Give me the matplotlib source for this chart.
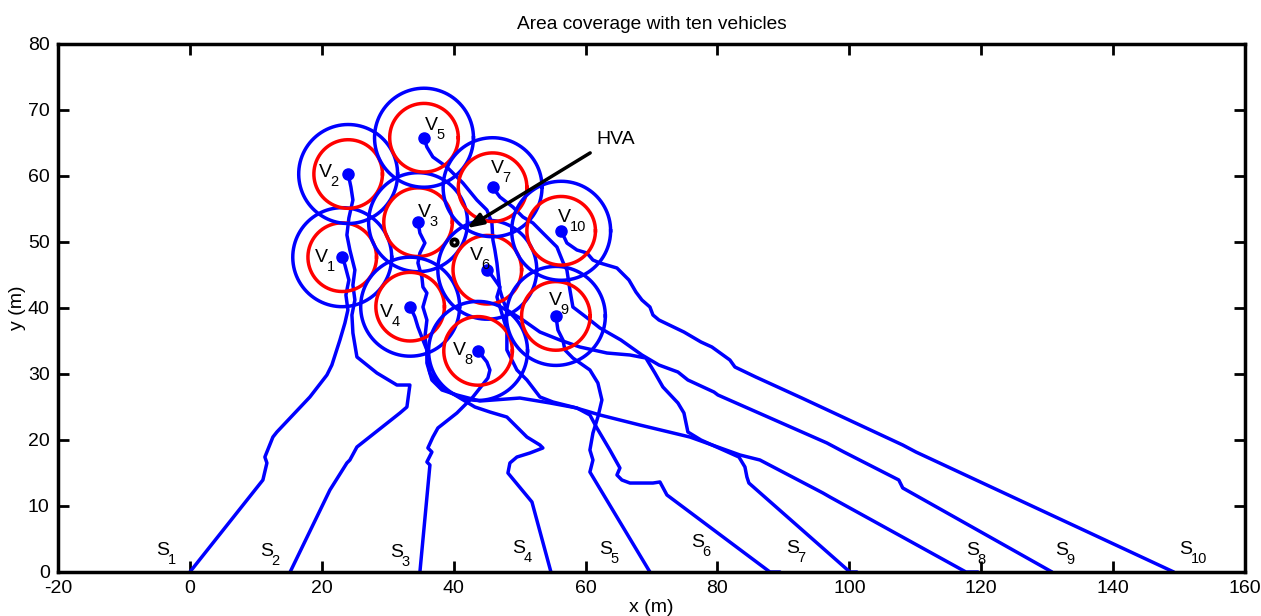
import matplotlib
matplotlib.use('Agg')
import matplotlib.pyplot as plt
import numpy as np

plt.rcParams['font.family'] = ['Liberation Sans', 'DejaVu Sans']
plt.rcParams['mathtext.default'] = 'regular'
plt.rcParams['axes.unicode_minus'] = False

# ---------------- data (metres) ----------------
# final vehicle positions (circle centres)
veh_x = [23.1, 24.0, 34.6, 33.4, 35.5, 45.1, 45.9, 43.7, 55.5, 56.3]
veh_y = [47.7, 60.3, 53.0, 40.2, 65.8, 45.8, 58.3, 33.5, 38.8, 51.7]
r_inner = 5.2
r_outer = 7.5

# trajectories (start -> vehicle)
tr1_x = [0.0, 11.07, 11.68, 11.37, 12.59, 13.19, 18.20, 20.78, 21.53, 22.75, 23.51, 23.96, 23.66, 24.11, 23.51, 23.1]
tr1_y = [0.0, 13.94, 16.52, 17.42, 20.45, 21.21, 26.52, 29.85, 31.36, 35.15, 37.73, 39.70, 41.97, 44.24, 46.52, 47.7]

tr2_x = [15.2, 21.23, 23.81, 24.26, 25.33, 31.85, 32.91, 33.36, 31.39, 28.36, 25.33, 24.72, 24.57, 25.02, 24.72, 25.02, 24.26, 23.81, 24.11, 24.72, 24.42, 24.0]
tr2_y = [0.0, 12.42, 16.52, 16.97, 18.94, 24.09, 25.00, 28.33, 28.33, 30.15, 32.58, 36.21, 38.94, 41.21, 43.48, 45.76, 48.79, 51.06, 53.64, 56.36, 58.33, 60.3]

tr3_x = [34.88, 36.40, 35.94, 36.70, 36.09, 36.85, 37.61, 40.49, 42.92, 45.19, 45.50, 45.04, 43.7]
tr3_y = [0.0, 16.21, 16.67, 18.18, 18.79, 20.45, 21.82, 24.09, 26.52, 29.39, 30.61, 31.82, 33.5]

tr4_x = [54.75, 51.87, 48.23, 48.53, 49.59, 51.56, 53.53, 53.08, 51.11, 48.07, 45.50, 43.22, 40.19, 37.91, 36.40, 36.09, 35.94, 35.34, 34.58, 34.12, 33.4]
tr4_y = [0.0, 10.61, 15.00, 16.52, 17.42, 18.03, 18.79, 19.24, 20.45, 23.48, 24.24, 25.00, 26.82, 28.03, 30.15, 31.67, 33.64, 35.15, 37.12, 38.64, 40.2]

tr5_x = [69.76, 60.66, 61.12, 60.66, 61.12, 61.87, 62.48, 61.87, 60.66, 58.08, 56.87, 56.57, 55.81, 55.5]
tr5_y = [0.0, 15.15, 16.97, 18.48, 21.06, 23.48, 26.06, 28.64, 30.61, 32.42, 33.64, 35.15, 36.67, 38.8]

tr6_x = [89.48, 87.96, 72.34, 71.28, 70.22, 66.73, 65.51, 64.76, 65.21, 63.69, 61.72, 60.66, 58.69, 54.60, 50.05, 43.98, 40.49, 38.22, 36.70, 35.94, 35.94, 35.64, 35.94, 35.34, 35.94, 35.34, 35.18, 34.58, 34.88, 35.64, 34.88, 34.6]
tr6_y = [0.0, 0.0, 11.67, 13.64, 13.48, 13.48, 13.94, 14.70, 15.76, 18.48, 21.82, 23.79, 24.85, 25.61, 26.36, 25.91, 26.82, 27.58, 29.09, 31.67, 33.64, 35.61, 38.18, 40.15, 42.27, 43.18, 44.70, 46.82, 48.33, 49.85, 51.36, 53.0]

tr7_x = [101.15, 100.09, 84.77, 84.47, 84.17, 83.26, 77.50, 75.52, 74.92, 74.01, 71.73, 70.52, 69.15, 66.73, 63.24, 59.14, 56.11, 53.08, 50.50, 48.07, 47.47, 47.01, 46.56, 46.25, 45.95, 45.80, 45.04, 43.52, 41.40, 38.97, 36.85, 35.94, 35.5]
tr7_y = [0.0, 0.0, 13.48, 14.39, 15.91, 17.42, 20.00, 21.21, 24.09, 25.61, 28.03, 30.15, 32.42, 32.88, 33.18, 34.09, 35.15, 36.36, 38.18, 39.70, 41.21, 42.73, 46.82, 48.79, 50.30, 52.88, 54.85, 56.36, 58.94, 61.36, 62.88, 64.39, 65.8]

tr8_x = [119.50, 117.68, 97.06, 96.00, 86.44, 83.41, 75.83, 68.24, 62.18, 58.08, 55.05, 53.08, 51.11, 49.59, 48.07, 48.07, 47.47, 47.01, 46.56, 47.01, 45.95, 45.1]
tr8_y = [0.0, 0.0, 11.36, 11.97, 16.97, 17.73, 20.45, 22.27, 23.79, 25.00, 25.76, 26.52, 29.09, 30.61, 33.64, 36.67, 38.64, 40.15, 41.67, 43.18, 44.70, 45.8]

tr9_x = [130.74, 108.1, 107.5, 99.18, 96.60, 80.07, 79.47, 75.52, 74.01, 71.13, 68.55, 65.36, 62.18, 60.66, 58.08, 57.63, 57.17, 56.57, 55.66, 53.53, 52.02, 50.50, 48.98, 47.01, 45.9]
tr9_y = [0.0, 12.73, 13.94, 18.18, 19.55, 26.82, 27.27, 29.09, 30.30, 31.36, 32.88, 35.15, 36.97, 38.18, 40.15, 42.73, 45.76, 46.97, 49.24, 51.36, 52.88, 53.79, 55.30, 56.82, 58.3]

tr10_x = [149.2, 110.1, 108.1, 92.8, 85.8, 82.65, 81.89, 79.16, 77.5, 74.92, 71.13, 70.22, 69.76, 68.55, 67.64, 66.58, 64.76, 62.18, 61.12, 60.21, 58.69, 57.17, 56.3]
tr10_y = [0.0, 18.18, 19.24, 26.36, 29.55, 31.06, 32.12, 34.09, 34.85, 36.36, 38.18, 38.94, 40.15, 41.21, 42.42, 44.24, 46.06, 46.82, 47.27, 48.33, 48.79, 49.85, 51.7]

# labels (left edge / baseline of the main letter)
veh_lab_x = [18.96, 19.56, 34.58, 28.81, 35.64, 42.46, 45.65, 39.88, 54.44, 55.81]
veh_lab_y = [46.97, 59.85, 53.79, 38.64, 66.97, 47.27, 60.45, 32.88, 40.45, 53.03]
start_lab_x = [-5.16, 10.62, 30.33, 48.83, 62.03, 75.98, 90.38, 117.7, 131.2, 150.0]
start_lab_y = [2.58, 2.42, 2.27, 2.88, 2.73, 3.79, 2.88, 2.58, 2.58, 2.73]

hva_x, hva_y = 40.0, 50.0
arrow_tip = (42.0, 52.1)
arrow_tail = (60.7, 63.5)
hva_text_pos = (61.7, 65.5)

x_ticks = list(range(-20, 161, 20))
y_ticks = list(range(0, 81, 10))

# ---------------- plot ----------------
BLUE = '#0000ff'
RED = '#ff0000'
FS = 14
FS_SUB = 10.5
LW = 2.5

fig = plt.figure(figsize=(12.61, 6.16), dpi=100)
ax = fig.add_axes([58/1261, 1-572/616, (1245-58)/1261, (572-44)/616])

trajs = [(tr1_x, tr1_y), (tr2_x, tr2_y), (tr3_x, tr3_y), (tr4_x, tr4_y), (tr5_x, tr5_y),
         (tr6_x, tr6_y), (tr7_x, tr7_y), (tr8_x, tr8_y), (tr9_x, tr9_y), (tr10_x, tr10_y)]
for tx, ty in trajs:
    ax.plot(tx, ty, color=BLUE, lw=LW, solid_joinstyle='round', solid_capstyle='round', zorder=2)

theta = np.linspace(0, 2*np.pi, 300)
for cx, cy in zip(veh_x, veh_y):
    ax.plot(cx + r_outer*np.cos(theta), cy + r_outer*np.sin(theta), color=BLUE, lw=LW, zorder=3)
    ax.plot(cx + r_inner*np.cos(theta), cy + r_inner*np.sin(theta), color=RED, lw=LW, zorder=3)
ax.plot(veh_x, veh_y, 'o', color=BLUE, ms=8, zorder=4)

ax.plot([hva_x], [hva_y], 'o', mfc='white', mec='k', mew=2.8, ms=4.5, zorder=5)
ax.annotate('', xy=arrow_tip, xytext=arrow_tail,
            arrowprops=dict(arrowstyle='-|>,head_length=0.6,head_width=0.22', color='k',
                            lw=2.5, mutation_scale=16, shrinkA=0, shrinkB=0), zorder=6)
ax.text(hva_text_pos[0], hva_text_pos[1], 'HVA', fontsize=FS, ha='left', va='center')


def label(letter, sub, x, y):
    ax.text(x, y, letter, fontsize=FS, ha='left', va='baseline', zorder=7)
    ax.annotate(sub, xy=(x, y), xytext=(0.6*FS, -6.5), textcoords='offset points',
                fontsize=FS_SUB, ha='left', va='baseline', zorder=7)


for i, (lx, ly) in enumerate(zip(veh_lab_x, veh_lab_y)):
    label('V', str(i+1), lx, ly)
for i, (lx, ly) in enumerate(zip(start_lab_x, start_lab_y)):
    label('S', str(i+1), lx, ly)

ax.set_xlim(-20, 160)
ax.set_ylim(0, 80)
ax.set_xticks(x_ticks)
ax.set_yticks(y_ticks)
ax.tick_params(direction='in', length=8, width=2, top=True, right=True, labelsize=FS, pad=6)
for sp in ax.spines.values():
    sp.set_linewidth(2.5)
ax.set_title('Area coverage with ten vehicles', fontsize=13.8, pad=11)
ax.set_xlabel('x (m)', fontsize=FS, labelpad=1)
ax.set_ylabel('y (m)', fontsize=FS, labelpad=1)

fig.savefig('out.png', dpi=100)
